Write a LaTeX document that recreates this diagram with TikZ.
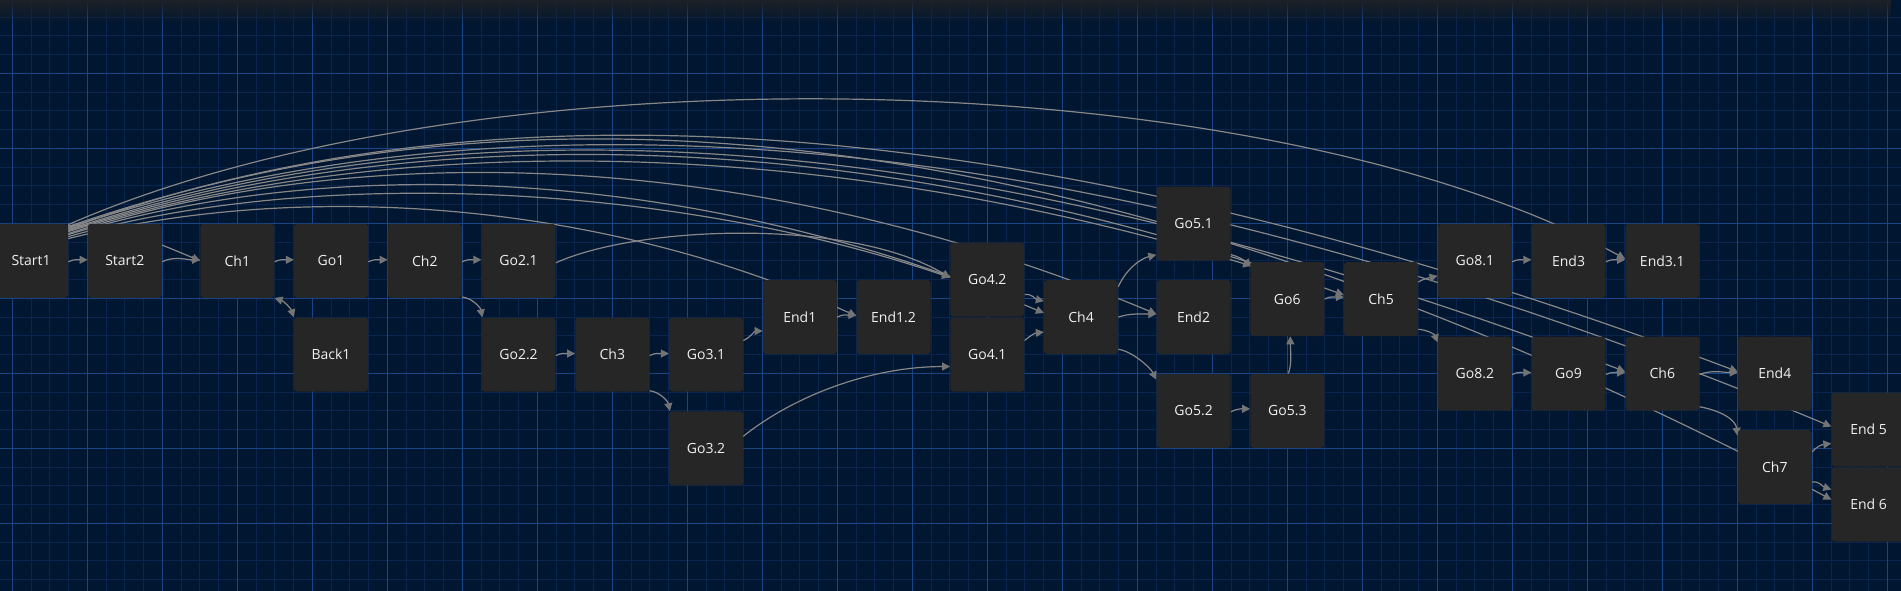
\documentclass[tikz,border=0pt]{standalone}
\usepackage{fontspec}
\setmainfont{Open Sans}
\usetikzlibrary{arrows.meta,calc,fadings}
\definecolor{bgc}{HTML}{011630}
\definecolor{minorc}{HTML}{0A2650}
\definecolor{majorc}{HTML}{174586}
\definecolor{nodec}{HTML}{262626}
\definecolor{edgec}{HTML}{878787}
\definecolor{tipc}{HTML}{747474}
\definecolor{topc}{HTML}{1E2127}
\definecolor{txtc}{HTML}{F0F0F0}
\pgfdeclarelayer{bglayer}
\pgfdeclarelayer{edgelayer}
\pgfsetlayers{bglayer,edgelayer,main}
\tikzset{
  box/.style={draw=none, fill=nodec, rounded corners=3pt, minimum width=74pt, minimum height=74pt, inner sep=0pt, text=txtc, font=\fontsize{14}{16}\selectfont},
  edge/.style={draw=edgec, line width=1.2pt, -{Triangle[length=8pt,width=8pt,color=tipc]}},
  dedge/.style={draw=edgec, line width=1.2pt, {Triangle[length=8pt,width=8pt,color=tipc]}-{Triangle[length=8pt,width=8pt,color=tipc]}},
  minorline/.style={draw=minorc, line width=0.7pt},
  majorline/.style={draw=majorc, line width=1pt}
}
\begin{document}
\begin{tikzpicture}[x=1pt,y=-1pt]
\useasboundingbox (0,0) rectangle (1901,591);
\begin{pgfonlayer}{bglayer}
\begin{scope}
\clip (0,0) rectangle (1901,591);
\fill[bgc] (0,0) rectangle (1901,591);
\foreach \k in {0,...,101} \draw[minorline] ({-6.45+18.75*\k},0) -- ++(0,591);
\foreach \k in {0,...,32} \draw[minorline] (0,{-1.7+18.75*\k}) -- ++(1901,0);
\foreach \k in {0,...,25} \draw[majorline] ({12.3+75*\k},0) -- ++(0,591);
\foreach \k in {0,...,8} \draw[majorline] (0,{-1.7+75*\k}) -- ++(1901,0);
\fill[topc, path fading=south] (0,0) rectangle (1901,24);
\end{scope}
\end{pgfonlayer}

% nodes
\node[box] (Start1) at (31.05,260.8) {Start1};
\node[box] (Start2) at (124.8,260.8) {Start2};
\node[box] (Ch1) at (237.3,260.8) {Ch1};
\node[box] (Go1) at (331.05,260.8) {Go1};
\node[box] (Back1) at (331.05,354.55) {Back1};
\node[box] (Ch2) at (424.8,260.8) {Ch2};
\node[box] (Go21) at (518.55,260.8) {Go2.1};
\node[box] (Go22) at (518.55,354.55) {Go2.2};
\node[box] (Ch3) at (612.3,354.55) {Ch3};
\node[box] (Go31) at (706.05,354.55) {Go3.1};
\node[box] (Go32) at (706.05,448.3) {Go3.2};
\node[box] (End1) at (799.8,317.05) {End1};
\node[box] (End12) at (893.55,317.05) {End1.2};
\node[box] (Go42) at (987.3,279.55) {Go4.2};
\node[box] (Go41) at (987.3,354.55) {Go4.1};
\node[box] (Ch4) at (1081.05,317.05) {Ch4};
\node[box] (Go51) at (1193.55,223.55) {Go5.1};
\node[box] (End2) at (1193.55,317.05) {End2};
\node[box] (Go52) at (1193.55,410.8) {Go5.2};
\node[box] (Go6) at (1287.3,299.05) {Go6};
\node[box] (Go53) at (1287.3,410.8) {Go5.3};
\node[box] (Ch5) at (1381.05,299.05) {Ch5};
\node[box] (Go81) at (1474.8,260.8) {Go8.1};
\node[box] (Go82) at (1474.8,373.55) {Go8.2};
\node[box] (End3) at (1568.55,260.8) {End3};
\node[box] (Go9) at (1568.55,373.55) {Go9};
\node[box] (End31) at (1662.3,260.8) {End3.1};
\node[box] (Ch6) at (1662.3,373.55) {Ch6};
\node[box] (End4) at (1774.8,373.55) {End4};
\node[box] (Ch7) at (1774.8,467.05) {Ch7};
\node[box] (End5) at (1868.55,429.55) {End 5};
\node[box] (End6) at (1868.55,504.55) {End 6};

\begin{pgfonlayer}{edgelayer}
% long edges from Start1
\draw[edge] ($(Start1.north east)+(0,1)$) .. controls (480,45) and (1260,60) .. ($(End31.west)+(0,-2)$);
\draw[edge] ($(Start1.north east)+(0,3)$) .. controls (450,95) and (1000,60) .. ($(End6.west)+(0,-5)$);
\draw[edge] ($(Start1.north east)+(0,4)$) .. controls (440,105) and (1000,80) .. ($(End5.west)+(0,-3)$);
\draw[edge] ($(Start1.north east)+(0,5)$) .. controls (430,95) and (950,75) .. ($(End4.west)+(0,-2)$);
\draw[edge] ($(Start1.north east)+(0,6)$) .. controls (420,115) and (900,95) .. ($(Ch6.west)+(0,-2)$);
\draw[edge] ($(Start1.north east)+(0,7)$) .. controls (400,125) and (850,115) .. ($(Ch5.west)+(0,-4)$);
\draw[edge] ($(Start1.north east)+(0,8)$) .. controls (380,135) and (800,130) .. ($(Go6.north west)+(1,4)$);
\draw[edge] ($(Start1.north east)+(0,10)$) .. controls (360,140) and (750,145) .. ($(End2.west)+(0,-3)$);
\draw[edge] ($(Start1.north east)+(0,11)$) .. controls (340,152) and (700,168) .. ($(Ch4.west)+(0,-4)$);
\draw[edge] ($(Start1.north east)+(0,13)$) .. controls (320,165) and (680,185) .. ($(Go42.west)+(0,-2)$);
\draw[edge] ($(Start1.north east)+(0,15)$) .. controls (300,180) and (600,200) .. ($(End12.west)+(0,-1)$);
\draw[edge] ($(Start1.north east)+(0,2)$) .. controls (110,222) and (160,244) .. (Ch1.west);
% short edges
\draw[edge] ($(Start1.east)+(0,1)$) .. controls +(6,-3) and +(-9,0) .. ($(Start2.west)+(0,-1)$);
\draw[edge] ($(Start2.east)+(0,1)$) .. controls +(12,-6) and +(-14,0) .. ($(Ch1.west)+(0,-1)$);
\draw[edge] ($(Ch1.east)+(0,1)$) .. controls +(6,-3) and +(-9,0) .. ($(Go1.west)+(0,-1)$);
\draw[dedge] (Ch1.south east) .. controls +(9,3) and +(-3,-9) .. (Back1.north west);
\draw[edge] ($(Go1.east)+(0,1)$) .. controls +(6,-3) and +(-9,0) .. ($(Ch2.west)+(0,-1)$);
\draw[edge] ($(Ch2.east)+(0,1)$) .. controls +(6,-3) and +(-9,0) .. ($(Go21.west)+(0,-1)$);
\draw[edge] ($(Ch2.south east)+(0,-1)$) .. controls +(10,1) and +(-2,-10) .. ($(Go22.north west)+(1,0)$);
\draw[edge] ($(Go22.east)+(0,1)$) .. controls +(6,-3) and +(-9,0) .. ($(Ch3.west)+(0,-1)$);
\draw[edge] ($(Ch3.east)+(0,1)$) .. controls +(6,-3) and +(-9,0) .. ($(Go31.west)+(0,-1)$);
\draw[edge] ($(Ch3.south east)+(0,-1)$) .. controls +(10,1) and +(-2,-10) .. ($(Go32.north west)+(1,0)$);
\draw[edge] ($(Go31.east)+(0,-14)$) .. controls +(7,-3) and +(-8,0) .. ($(End1.west)+(0,14)$);
\draw[edge] ($(Go32.east)+(0,-12)$) .. controls +(50,-40) and +(-80,0) .. ($(Go41.west)+(0,12)$);
\draw[edge] ($(Go21.east)+(0,2)$) .. controls (640,225) and (850,218) .. ($(Go42.west)+(0,-2)$);
\draw[edge] ($(End1.east)+(0,0)$) .. controls +(6,-3) and +(-9,0) .. ($(End12.west)+(0,-2)$);
\draw[edge] ($(Go42.east)+(0,15)$) .. controls +(8,-1) and +(-9,-2) .. ($(Ch4.west)+(0,-16)$);
\draw[edge] ($(Go41.east)+(0,-14)$) .. controls +(6,-5) and +(-9,1) .. ($(Ch4.west)+(0,15)$);
\draw[edge] ($(Ch4.north east)+(0,7)$) .. controls +(8,-18) and +(-16,4) .. ($(Go51.south west)+(0,-6)$);
\draw[edge] (Ch4.east) .. controls +(12,-4) and +(-14,0) .. ($(End2.west)+(0,-3)$);
\draw[edge] ($(Ch4.south east)+(0,-5)$) .. controls +(14,2) and +(-6,-12) .. ($(Go52.north west)+(0,6)$);
\draw[edge] ($(Go51.east)+(0,31)$) .. controls +(8,2) and +(-6,-6) .. ($(Go6.north west)+(1,5)$);
\draw[edge] ($(Go52.east)+(0,1)$) .. controls +(6,-3) and +(-9,0) .. ($(Go53.west)+(0,-2)$);
\draw[edge] ($(Go53.north)+(1,0)$) .. controls +(4,-10) and +(0,12) .. ($(Go6.south)+(3,0)$);
\draw[edge] (Go6.east) .. controls +(6,-3) and +(-9,0) .. ($(Ch5.west)+(0,-2)$);
\draw[edge] ($(Ch5.east)+(0,-17)$) .. controls +(7,-4) and +(-8,2) .. ($(Go81.west)+(0,15)$);
\draw[edge] ($(Ch5.south east)+(0,-7)$) .. controls +(10,1) and +(-3,-8) .. ($(Go82.north west)+(0,6)$);
\draw[edge] ($(Go81.east)+(0,1)$) .. controls +(6,-3) and +(-9,0) .. ($(End3.west)+(0,-1)$);
\draw[edge] ($(End3.east)+(0,1)$) .. controls +(6,-3) and +(-9,0) .. ($(End31.west)+(0,-1)$);
\draw[edge] ($(Go82.east)+(0,1)$) .. controls +(6,-3) and +(-9,0) .. ($(Go9.west)+(0,-1)$);
\draw[edge] ($(Go9.east)+(0,1)$) .. controls +(6,-3) and +(-9,0) .. ($(Ch6.west)+(0,-1)$);
\draw[edge] ($(Ch6.east)+(0,1)$) .. controls +(12,-5) and +(-14,0) .. ($(End4.west)+(0,-1)$);
\draw[edge] ($(Ch6.south east)+(0,-4)$) .. controls +(22,4) and +(-2,-16) .. ($(Ch7.north west)+(0,6)$);
\draw[edge] ($(Ch7.east)+(0,-15)$) .. controls +(5,-6) and +(-9,1) .. ($(End5.west)+(0,14)$);
\draw[edge] ($(Ch7.east)+(0,15)$) .. controls +(8,-1) and +(-9,-3) .. ($(End6.west)+(0,-15)$);
\end{pgfonlayer}
\end{tikzpicture}
\end{document}
